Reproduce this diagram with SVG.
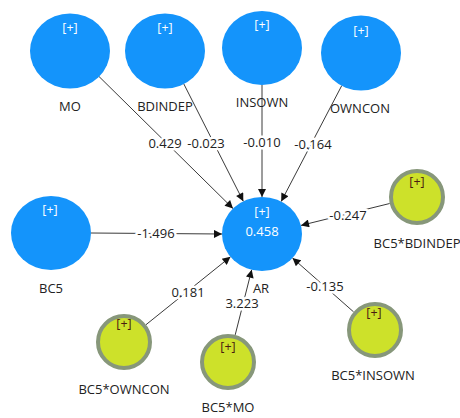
<svg xmlns="http://www.w3.org/2000/svg" width="460" height="418" viewBox="0 0 460 418">
<style>
text{font-family:"Segoe UI","Open Sans","Liberation Sans",sans-serif;text-anchor:middle;dominant-baseline:central}
.lv{fill:#1494fb}
.ind{fill:#cde12a;stroke:#87977a;stroke-width:4}
.pw{fill:#ffffff;font-size:12.5px}
.pd{fill:#4a1a10;font-size:12.5px}
.nl{fill:#222;font-size:13px}
.cl{fill:#222;font-size:13px;stroke:#fff;stroke-width:5;paint-order:stroke;stroke-linejoin:round}
.ln{stroke:#3a3a3a;stroke-width:1;fill:none;marker-end:url(#ah)}
</style>
<defs>
<marker id="ah" viewBox="0 0 10 10" refX="10" refY="5" markerWidth="10" markerHeight="8" markerUnits="userSpaceOnUse" orient="auto">
<path d="M0,0 L10,5 L0,10 z" fill="#111"/>
</marker>
</defs>
<g id="connectors">
<line class="ln" x1="99" y1="76.5" x2="233" y2="208.5"/>
<line class="ln" x1="183.7" y1="83.7" x2="243.3" y2="201.3"/>
<line class="ln" x1="262" y1="85" x2="262" y2="197"/>
<line class="ln" x1="341.8" y1="85.5" x2="281.2" y2="201.5"/>
<line class="ln" x1="91" y1="233" x2="222" y2="234"/>
<line class="ln" x1="389.7" y1="203.5" x2="301" y2="225.4"/>
<line class="ln" x1="353.6" y1="311.9" x2="292.5" y2="258"/>
<line class="ln" x1="146" y1="324.7" x2="230.5" y2="256.8"/>
<line class="ln" x1="235.2" y1="334.9" x2="251.7" y2="269.8"/>
<text class="cl" x="165" y="143">0.429</text>
<text class="cl" x="206" y="143">-0.023</text>
<text class="cl" x="262" y="142">-0.010</text>
<text class="cl" x="313" y="144">-0.164</text>
<text class="cl" x="156" y="233">-1.496</text>
<text class="cl" x="348" y="215">-0.247</text>
<text class="cl" x="325" y="286">-0.135</text>
<text class="cl" x="188" y="292">0.181</text>
<text class="cl" x="242" y="303">3.223</text>
</g>
<g id="MO"><ellipse class="lv" cx="70" cy="51" rx="40" ry="37.5"/><text class="pw" x="70" y="27">[+]</text><text class="nl" x="70" y="106">MO</text></g>
<g id="BDINDEP"><ellipse class="lv" cx="165" cy="51" rx="40" ry="37.5"/><text class="pw" x="165" y="27">[+]</text><text class="nl" x="165" y="106">BDINDEP</text></g>
<g id="INSOWN"><ellipse class="lv" cx="262" cy="48" rx="40" ry="37"/><text class="pw" x="262" y="24">[+]</text><text class="nl" x="262" y="102">INSOWN</text></g>
<g id="OWNCON"><ellipse class="lv" cx="361" cy="53" rx="40" ry="37.5"/><text class="pw" x="361" y="30">[+]</text><text class="nl" x="360" y="108">OWNCON</text></g>
<g id="BC5"><ellipse class="lv" cx="51" cy="233" rx="40" ry="37"/><text class="pw" x="50" y="209">[+]</text><text class="nl" x="51" y="288">BC5</text></g>
<g id="AR"><ellipse class="lv" cx="262" cy="234" rx="40" ry="37"/><text class="pw" x="262" y="211">[+]</text><text class="pw" style="font-size:13px" x="262" y="231">0.458</text><text class="nl" x="261" y="288">AR</text></g>
<g id="BC5_BDINDEP"><circle class="ind" cx="417" cy="197" r="26"/><text class="pd" x="417" y="181">[+]</text><text class="nl" x="417" y="243">BC5*BDINDEP</text></g>
<g id="BC5_INSOWN"><circle class="ind" cx="375" cy="330" r="26"/><text class="pd" x="374" y="312">[+]</text><text class="nl" x="373" y="375">BC5*INSOWN</text></g>
<g id="BC5_OWNCON"><circle class="ind" cx="124" cy="342" r="26"/><text class="pd" x="124" y="323">[+]</text><text class="nl" x="124" y="389">BC5*OWNCON</text></g>
<g id="BC5_MO"><circle class="ind" cx="228" cy="362" r="26"/><text class="pd" x="228" y="346">[+]</text><text class="nl" x="228" y="407">BC5*MO</text></g>
</svg>
